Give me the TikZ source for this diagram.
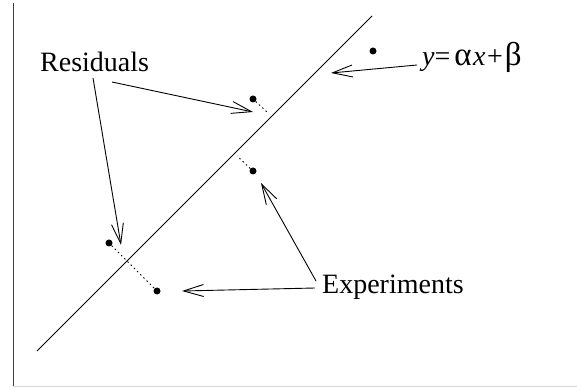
\documentclass[tikz,border=0pt]{standalone}
\usepackage{fontspec}
\setmainfont{Liberation Serif}
\usetikzlibrary{arrows.meta}
\tikzset{
  nd_lbl/.style={font=\fontsize{28}{34}\selectfont, inner sep=0pt, anchor=base west},
  nd_pt/.style={circle, fill=black, minimum size=7pt, inner sep=0pt},
  arr/.style={-{Straight Barb[length=20pt,width=12pt]}, line width=0.9pt},
  resid/.style={line width=0.9pt, dash pattern=on 1.5pt off 3pt},
  fit_ln/.style={line width=0.9pt},
}
\newcommand{\grk}[1]{{\fontsize{33}{34}\selectfont #1}}

\begin{document}
\begin{tikzpicture}[x=1pt,y=-1pt]
\useasboundingbox (0,0) rectangle (578,387);

%% frame
\draw[line width=1pt, black!75] (13,3) -- (13,386);
\draw[line width=1pt, black!15] (13,386) -- (577,386);

%% fitted line
\coordinate (LA) at (37,351);
\coordinate (LB) at (372,16);
\draw[fit_ln] (LA) -- (LB);

%% experiments
\node[nd_pt] (P1) at (373,51)  {};
\node[nd_pt] (P2) at (253,99)  {};
\node[nd_pt] (P3) at (253,171) {};
\node[nd_pt] (P4) at (109,243) {};
\node[nd_pt] (P5) at (157,291) {};

%% residuals
\coordinate (F2) at (268,113);
\coordinate (F3) at (237,156);
\draw[resid] (P2) -- (F2);
\draw[resid] (P3) -- (F3);
\draw[resid] (P4) -- (P5);

%% labels
\node[nd_lbl] (Res) at (40,72)  {Residuals};
\node[nd_lbl] (Exp) at (322,294) {Experiments};
\node[nd_lbl] (Eq)  at (422,66)  {\textit{y}=\kern4pt\grk{α}\kern1.5pt\textit{x}\kern1.5pt+\kern2pt\grk{β}};

%% arrows
\coordinate (RsA) at (93,78);
\coordinate (RsB) at (112,82);
\coordinate (RtA) at (121,245);
\coordinate (RtB) at (253,112);
\coordinate (EqS) at (417,65);
\coordinate (EqT) at (331,73);
\coordinate (ExA) at (316,281);
\coordinate (ExB) at (315,288);
\coordinate (EtA) at (261,183);
\coordinate (EtB) at (182,291);

\draw[arr] (RsA) -- (RtA);
\draw[arr] (RsB) -- (RtB);
\draw[arr] (EqS) -- (EqT);
\draw[arr] (ExA) -- (EtA);
\draw[arr] (ExB) -- (EtB);

\end{tikzpicture}
\end{document}
